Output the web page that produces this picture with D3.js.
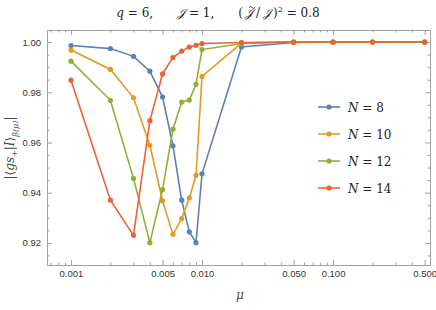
<!DOCTYPE html>
<html>
<head>
<meta charset="utf-8">
<script src="https://cdn.jsdelivr.net/npm/d3@7"></script>
<style>
  body { margin: 0; background: #fff; }
  svg { display: block; }
  .tick text { font-family: 'Liberation Sans', Arial, sans-serif; font-size: 9.5px; fill: #333; }
  .math { font-family: 'DejaVu Serif', 'Liberation Serif', serif; }
</style>
</head>
<body>
<div id="chart"></div>
<script>
// mu values on the log axis
const mu = [0.001, 0.002, 0.003, 0.004, 0.005, 0.006, 0.007, 0.008, 0.009, 0.01, 0.02, 0.05, 0.1, 0.2, 0.5]

// overlap |<gs+|I>| for each system size
const n8 = [0.9986, 0.9974, 0.9943, 0.9884, 0.9781, 0.9587, 0.9370, 0.9244, 0.9201, 0.9475, 0.9980, 0.9998, 1.0, 1.0, 1.0]
const n10 = [0.9968, 0.9891, 0.9778, 0.9589, 0.9368, 0.9234, 0.9297, 0.9379, 0.9469, 0.9863, 0.9996, 1.0, 1.0, 1.0, 1.0]
const n12 = [0.9924, 0.9768, 0.9457, 0.9201, 0.9412, 0.9653, 0.9761, 0.9769, 0.9832, 0.9970, 0.9994, 1.0, 1.0, 1.0, 1.0]
const n14 = [0.9848, 0.9370, 0.9230, 0.9687, 0.9873, 0.9938, 0.9964, 0.9980, 0.9987, 0.9994, 0.9998, 1.0, 1.0, 1.0, 1.0]

const seriesNames = ['8', '10', '12', '14']
const seriesValues = [n8, n10, n12, n14]
const colors = ['#5e81b5', '#e19c24', '#8fb032', '#eb6235']

const xMajor = [0.001, 0.005, 0.01, 0.05, 0.1, 0.5]
const xMinor = [0.0007, 0.0008, 0.0009, 0.002, 0.003, 0.004, 0.006, 0.007, 0.008, 0.009,
  0.02, 0.03, 0.04, 0.06, 0.07, 0.08, 0.09, 0.2, 0.3, 0.4]
const yMajor = [0.92, 0.94, 0.96, 0.98, 1.00]
const yMinor = [0.915, 0.925, 0.93, 0.935, 0.945, 0.95, 0.955, 0.965, 0.97, 0.975, 0.985, 0.99, 0.995]

const width = 436
const height = 310
const plotLeft = 47, plotRight = 430, plotTop = 30, plotBottom = 265

const x = d3.scaleLog().domain([0.000656, 0.5495]).range([plotLeft, plotRight])
const y = d3.scaleLinear().domain([0.9112, 1.0048]).range([plotBottom, plotTop])

const svg = d3.select('#chart').append('svg')
  .attr('width', width)
  .attr('height', height)

// frame axes, ticks pointing inward
function styleAxis (g) {
  g.select('.domain').attr('stroke', '#a0a0a0')
  g.selectAll('.tick line').attr('stroke', '#a0a0a0')
}

svg.append('g')
  .attr('transform', `translate(0,${plotBottom})`)
  .call(d3.axisBottom(x).tickValues(xMajor).tickFormat(d3.format('.3f')).tickSize(-5).tickSizeOuter(0).tickPadding(5))
  .call(styleAxis)
svg.append('g')
  .attr('transform', `translate(0,${plotBottom})`)
  .call(d3.axisBottom(x).tickValues(xMinor).tickFormat('').tickSize(-2.5).tickSizeOuter(0))
  .call(styleAxis)
svg.append('g')
  .attr('transform', `translate(0,${plotTop})`)
  .call(d3.axisTop(x).tickValues(xMajor).tickFormat('').tickSize(-5).tickSizeOuter(0))
  .call(styleAxis)
svg.append('g')
  .attr('transform', `translate(0,${plotTop})`)
  .call(d3.axisTop(x).tickValues(xMinor).tickFormat('').tickSize(-2.5).tickSizeOuter(0))
  .call(styleAxis)

svg.append('g')
  .attr('transform', `translate(${plotLeft},0)`)
  .call(d3.axisLeft(y).tickValues(yMajor).tickFormat(d3.format('.2f')).tickSize(-5).tickSizeOuter(0).tickPadding(6))
  .call(styleAxis)
svg.append('g')
  .attr('transform', `translate(${plotLeft},0)`)
  .call(d3.axisLeft(y).tickValues(yMinor).tickFormat('').tickSize(-2.5).tickSizeOuter(0))
  .call(styleAxis)
svg.append('g')
  .attr('transform', `translate(${plotRight},0)`)
  .call(d3.axisRight(y).tickValues(yMajor).tickFormat('').tickSize(-5).tickSizeOuter(0))
  .call(styleAxis)
svg.append('g')
  .attr('transform', `translate(${plotRight},0)`)
  .call(d3.axisRight(y).tickValues(yMinor).tickFormat('').tickSize(-2.5).tickSizeOuter(0))
  .call(styleAxis)

// series
const line = d3.line()
  .x(d => x(d[0]))
  .y(d => y(d[1]))

seriesValues.forEach((vals, i) => {
  let pts = mu.map((m, j) => [m, vals[j]])
  let g = svg.append('g')
  g.append('path')
    .datum(pts)
    .attr('d', line)
    .attr('fill', 'none')
    .attr('stroke', colors[i])
    .attr('stroke-width', 1.6)
  g.selectAll('circle')
    .data(pts)
    .join('circle')
    .attr('cx', d => x(d[0]))
    .attr('cy', d => y(d[1]))
    .attr('r', 2.6)
    .attr('fill', colors[i])
})

// legend
const legendY = [107, 134, 161, 188]
const legend = svg.append('g')
seriesNames.forEach((name, i) => {
  let g = legend.append('g').attr('transform', `translate(318,${legendY[i]})`)
  g.append('line').attr('x1', 0).attr('x2', 22).attr('stroke', colors[i]).attr('stroke-width', 1.6)
  g.append('circle').attr('cx', 11).attr('r', 2.6).attr('fill', colors[i])
  let t = g.append('text').attr('class', 'math').attr('x', 30).attr('y', 4.5)
    .attr('font-size', 12).attr('fill', '#222')
  t.append('tspan').attr('font-style', 'italic').text('N')
  t.append('tspan').text(' = ' + name)
})

// title
const title = svg.append('text').attr('class', 'math')
  .attr('x', 218).attr('y', 17)
  .attr('text-anchor', 'middle')
  .attr('font-size', 12)
  .attr('fill', '#222')
title.append('tspan').attr('font-style', 'italic').text('q')
title.append('tspan').text(' = 6,\u2003\u2003')
title.append('tspan').attr('font-style', 'italic').text('\u{1D4A5}')
title.append('tspan').text(' = 1,\u2003\u2003(')
const jTilde = title.append('tspan').attr('dx', 2).attr('font-style', 'italic').text('\u{1D4A5}')
title.append('tspan').attr('dx', 3).text('/')
title.append('tspan').attr('dx', 3).attr('font-style', 'italic').text('\u{1D4A5}')
title.append('tspan').attr('dx', 2).text(')')
title.append('tspan').attr('font-size', 8).attr('dy', -5).text('2')
title.append('tspan').attr('dy', 5).text(' = 0.8')

// tilde accent over the second J, drawn as a stroke
const jb = jTilde.node().getBBox()
const tx = jb.x + jb.width / 2 + 1, ty = jb.y + 1
svg.append('path')
  .attr('d', `M${tx - 3},${ty + 0.5} q1.5,-2 3,0 t3,0`)
  .attr('fill', 'none')
  .attr('stroke', '#222')
  .attr('stroke-width', 0.9)

// axis labels
svg.append('text').attr('class', 'math')
  .attr('x', 240).attr('y', 299)
  .attr('text-anchor', 'middle')
  .attr('font-size', 12)
  .attr('font-style', 'italic')
  .attr('fill', '#444')
  .text('\u03bc')

const ylab = svg.append('text').attr('class', 'math')
  .attr('transform', 'translate(14,148) rotate(-90)')
  .attr('text-anchor', 'middle')
  .attr('font-size', 12)
  .attr('fill', '#444')
ylab.append('tspan').text('|\u27e8')
ylab.append('tspan').attr('font-style', 'italic').text('gs')
ylab.append('tspan').attr('font-size', 8).attr('dy', 3).text('+')
ylab.append('tspan').attr('dy', -3).text('|')
ylab.append('tspan').attr('font-style', 'italic').text('I')
ylab.append('tspan').text('\u27e9')
ylab.append('tspan').attr('font-size', 8).attr('dy', 4).attr('font-style', 'italic').text('\u03b2(\u03bc)')
ylab.append('tspan').attr('dy', -4).text('|')
</script>
</body>
</html>
